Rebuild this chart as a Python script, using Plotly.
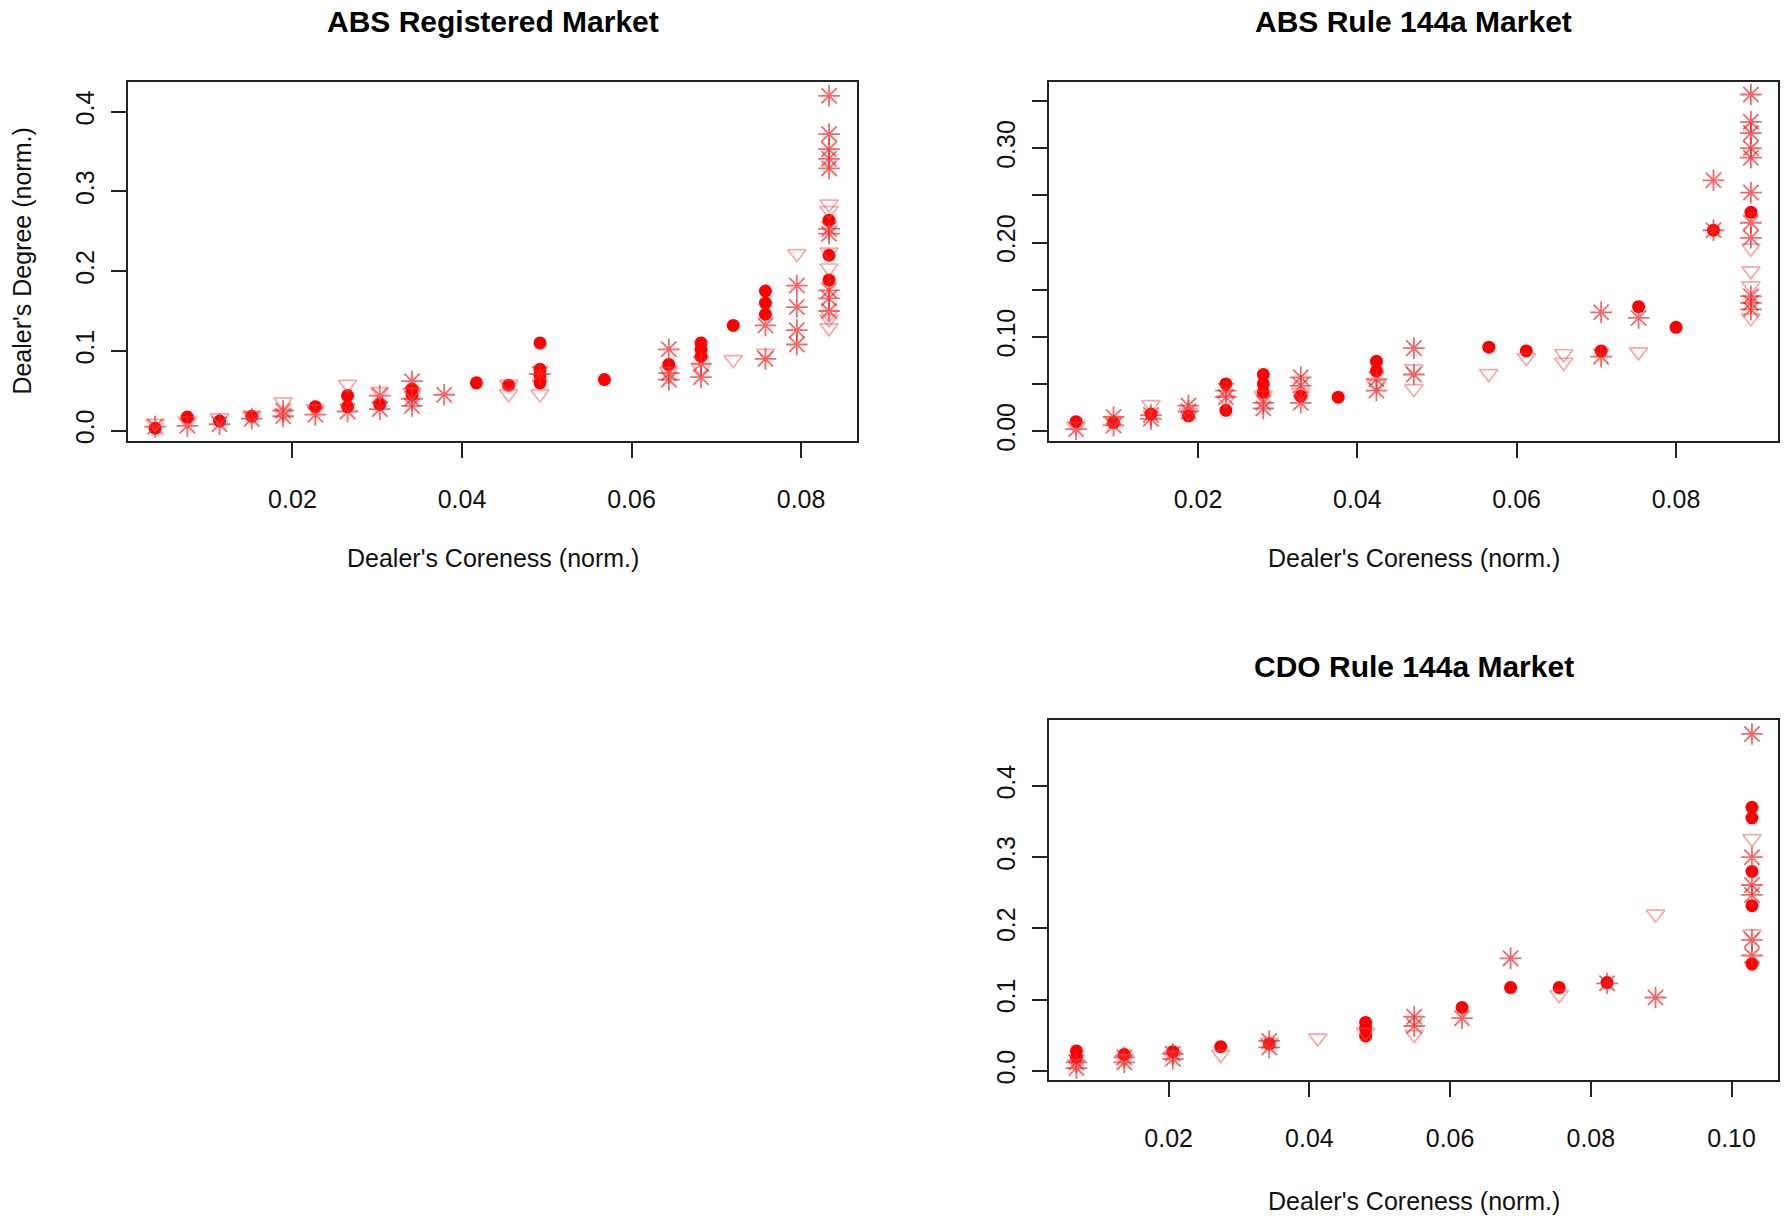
import plotly.graph_objects as go

# ---------------- data: ABS Registered Market ----------------
reg_circle_x = [0.0038, 0.0076, 0.0114, 0.0152, 0.0227, 0.0265, 0.0265, 0.0303, 0.0341, 0.0341,
                0.0417, 0.0455, 0.0492, 0.0492, 0.0492, 0.0492, 0.0568, 0.0644, 0.0682, 0.0682,
                0.0682, 0.0720, 0.0758, 0.0758, 0.0758, 0.0833, 0.0833, 0.0833]
reg_circle_y = [0.003, 0.017, 0.012, 0.018, 0.030, 0.044, 0.030, 0.033, 0.052, 0.045,
                0.060, 0.057, 0.110, 0.077, 0.069, 0.060, 0.064, 0.083, 0.110, 0.102,
                0.093, 0.132, 0.175, 0.160, 0.146, 0.264, 0.220, 0.189]
reg_star_x = [0.0038, 0.0076, 0.0114, 0.0152, 0.0189, 0.0189, 0.0227, 0.0265, 0.0303, 0.0303,
              0.0341, 0.0341, 0.0341, 0.0379, 0.0492, 0.0644, 0.0644, 0.0644, 0.0682, 0.0682,
              0.0758, 0.0758, 0.0795, 0.0795, 0.0795, 0.0795, 0.0833, 0.0833, 0.0833, 0.0833,
              0.0833, 0.0833, 0.0833, 0.0833, 0.0833, 0.0833]
reg_star_y = [0.005, 0.006, 0.008, 0.015, 0.025, 0.018, 0.020, 0.024, 0.044, 0.027,
              0.062, 0.040, 0.031, 0.045, 0.071, 0.102, 0.072, 0.064, 0.084, 0.067,
              0.132, 0.090, 0.182, 0.155, 0.126, 0.108, 0.420, 0.372, 0.353, 0.341,
              0.329, 0.253, 0.247, 0.176, 0.166, 0.150]
reg_tri_x = [0.0038, 0.0076, 0.0114, 0.0152, 0.0189, 0.0189, 0.0227, 0.0265, 0.0303, 0.0341,
             0.0455, 0.0455, 0.0492, 0.0644, 0.0682, 0.0720, 0.0758, 0.0795, 0.0833, 0.0833,
             0.0833, 0.0833, 0.0833, 0.0833, 0.0833]
reg_tri_y = [0.009, 0.012, 0.016, 0.019, 0.036, 0.022, 0.027, 0.058, 0.049, 0.048,
             0.058, 0.046, 0.046, 0.074, 0.078, 0.089, 0.097, 0.222, 0.284, 0.276,
             0.224, 0.204, 0.146, 0.140, 0.129]

# ---------------- data: ABS Rule 144a Market ----------------
r144_circle_x = [0.0047, 0.0094, 0.0141, 0.0188, 0.0235, 0.0235, 0.0282, 0.0282, 0.0282, 0.0329,
                 0.0376, 0.0424, 0.0424, 0.0565, 0.0612, 0.0706, 0.0753, 0.0800, 0.0847, 0.0894]
r144_circle_y = [0.010, 0.009, 0.018, 0.016, 0.050, 0.022, 0.060, 0.050, 0.041, 0.037,
                 0.036, 0.074, 0.064, 0.089, 0.085, 0.085, 0.132, 0.110, 0.213, 0.232]
r144_star_x = [0.0047, 0.0094, 0.0094, 0.0141, 0.0141, 0.0188, 0.0188, 0.0235, 0.0235, 0.0282,
               0.0282, 0.0329, 0.0329, 0.0329, 0.0424, 0.0424, 0.0471, 0.0471, 0.0706, 0.0706,
               0.0753, 0.0847, 0.0847, 0.0894, 0.0894, 0.0894, 0.0894, 0.0894, 0.0894, 0.0894,
               0.0894, 0.0894, 0.0894, 0.0894]
r144_star_y = [0.002, 0.015, 0.006, 0.013, 0.017, 0.027, 0.021, 0.043, 0.036, 0.024,
               0.030, 0.057, 0.048, 0.030, 0.055, 0.043, 0.088, 0.060, 0.126, 0.079,
               0.120, 0.266, 0.213, 0.357, 0.328, 0.316, 0.300, 0.290, 0.253, 0.221,
               0.205, 0.143, 0.136, 0.129]
r144_tri_x = [0.0047, 0.0094, 0.0141, 0.0188, 0.0235, 0.0282, 0.0329, 0.0424, 0.0471, 0.0471,
              0.0565, 0.0612, 0.0659, 0.0659, 0.0753, 0.0894, 0.0894, 0.0894, 0.0894]
r144_tri_y = [0.005, 0.011, 0.028, 0.020, 0.033, 0.038, 0.041, 0.049, 0.066, 0.045,
              0.061, 0.078, 0.082, 0.073, 0.084, 0.194, 0.170, 0.154, 0.120]

# ---------------- data: CDO Rule 144a Market ----------------
cdo_circle_x = [0.0069, 0.0069, 0.0137, 0.0206, 0.0274, 0.0343, 0.0480, 0.0480, 0.0480, 0.0617,
                0.0686, 0.0755, 0.0823, 0.1029, 0.1029, 0.1029, 0.1029, 0.1029]
cdo_circle_y = [0.028, 0.019, 0.023, 0.027, 0.034, 0.038, 0.068, 0.060, 0.049, 0.089,
                0.117, 0.117, 0.124, 0.370, 0.355, 0.280, 0.232, 0.150]
cdo_star_x = [0.0069, 0.0069, 0.0137, 0.0137, 0.0206, 0.0206, 0.0343, 0.0343, 0.0549, 0.0549,
              0.0617, 0.0686, 0.0823, 0.0892, 0.1029, 0.1029, 0.1029, 0.1029, 0.1029, 0.1029]
cdo_star_y = [0.012, 0.004, 0.019, 0.012, 0.017, 0.024, 0.042, 0.033, 0.076, 0.063,
              0.074, 0.158, 0.123, 0.103, 0.473, 0.300, 0.261, 0.247, 0.184, 0.162]
cdo_tri_x = [0.0069, 0.0137, 0.0206, 0.0274, 0.0343, 0.0412, 0.0480, 0.0549, 0.0755, 0.0892,
             0.1029, 0.1029]
cdo_tri_y = [0.010, 0.017, 0.021, 0.023, 0.040, 0.046, 0.054, 0.051, 0.107, 0.220,
             0.326, 0.192]

# ---------------- tick labels ----------------
x_ticks_abs = [0.02, 0.04, 0.06, 0.08]
x_ticks_cdo = [0.02, 0.04, 0.06, 0.08, 0.10]
y_ticks_reg = [0.0, 0.1, 0.2, 0.3, 0.4]
y_ticks_r144 = [0.00, 0.05, 0.10, 0.15, 0.20, 0.25, 0.30, 0.35]
y_text_r144 = ["0.00", "", "0.10", "", "0.20", "", "0.30", ""]
y_ticks_cdo = [0.0, 0.1, 0.2, 0.3, 0.4]

titles = ["ABS Registered Market", "ABS Rule 144a Market", "CDO Rule 144a Market"]
x_title = "Dealer's Coreness (norm.)"
y_title = "Dealer's Degree (norm.)"

W, H = 1786, 1218
FONT = "Liberation Sans, Arial, sans-serif"

CIRCLE_COLOR = "#FF0000"
STAR_COLOR = "rgba(238, 40, 40, 0.70)"
TRI_COLOR = "rgba(240, 80, 80, 0.50)"

fig = go.Figure()

panels = [
    ("x", "y", reg_circle_x, reg_circle_y, reg_star_x, reg_star_y, reg_tri_x, reg_tri_y),
    ("x2", "y2", r144_circle_x, r144_circle_y, r144_star_x, r144_star_y, r144_tri_x, r144_tri_y),
    ("x3", "y3", cdo_circle_x, cdo_circle_y, cdo_star_x, cdo_star_y, cdo_tri_x, cdo_tri_y),
]
for xa, ya, cx, cy, sx, sy, tx, ty in panels:
    fig.add_trace(go.Scatter(x=cx, y=cy, mode="markers", xaxis=xa, yaxis=ya, showlegend=False,
                             marker=dict(symbol="circle", size=13, color=CIRCLE_COLOR,
                                         line=dict(width=0))))
    fig.add_trace(go.Scatter(x=sx, y=sy, mode="markers", xaxis=xa, yaxis=ya, showlegend=False,
                             marker=dict(symbol="asterisk-open", size=18, color=STAR_COLOR,
                                         line=dict(width=1.8, color=STAR_COLOR))))
    fig.add_trace(go.Scatter(x=tx, y=ty, mode="markers", xaxis=xa, yaxis=ya, showlegend=False,
                             marker=dict(symbol="triangle-down-open", size=16, color=TRI_COLOR,
                                         line=dict(width=1.7, color=TRI_COLOR))))

def px_x(p):
    return p / W

def px_y(p):
    return 1 - p / H

axis_common = dict(showline=True, mirror=True, linecolor="#222222", linewidth=2,
                   ticks="outside", ticklen=15, tickwidth=2, tickcolor="#222222",
                   showgrid=False, zeroline=False,
                   tickfont=dict(family=FONT, size=25, color="#111111"))

# panel pixel boxes (left, right, top, bottom)
box1 = (128, 857, 83, 445)
box2 = (1049, 1778, 83, 445)
box3 = (1049, 1778, 727, 1090)

fig.update_layout(
    width=W, height=H, margin=dict(l=0, r=0, t=0, b=0),
    paper_bgcolor="white", plot_bgcolor="white",
    xaxis=dict(domain=[px_x(box1[0]), px_x(box1[1])], range=[0.0006, 0.0866],
               tickvals=x_ticks_abs, ticktext=["%.2f" % v for v in x_ticks_abs],
               ticklabelstandoff=20, anchor="y", **axis_common),
    yaxis=dict(domain=[px_y(box1[3]), px_y(box1[2])], range=[-0.013, 0.437],
               tickvals=y_ticks_reg, ticktext=["%.1f" % v for v in y_ticks_reg],
               tickangle=-90, ticklabelstandoff=7, anchor="x", **axis_common),
    xaxis2=dict(domain=[px_x(box2[0]), px_x(box2[1])], range=[0.0013, 0.0928],
                tickvals=x_ticks_abs, ticktext=["%.2f" % v for v in x_ticks_abs],
                ticklabelstandoff=20, anchor="y2", **axis_common),
    yaxis2=dict(domain=[px_y(box2[3]), px_y(box2[2])], range=[-0.0105, 0.370],
                tickvals=y_ticks_r144, ticktext=y_text_r144,
                tickangle=-90, ticklabelstandoff=7, anchor="x2", **axis_common),
    xaxis3=dict(domain=[px_x(box3[0]), px_x(box3[1])], range=[0.0030, 0.1066],
                tickvals=x_ticks_cdo, ticktext=["%.2f" % v for v in x_ticks_cdo],
                ticklabelstandoff=20, anchor="y3", **axis_common),
    yaxis3=dict(domain=[px_y(box3[3]), px_y(box3[2])], range=[-0.013, 0.492],
                tickvals=y_ticks_cdo, ticktext=["%.1f" % v for v in y_ticks_cdo],
                tickangle=-90, ticklabelstandoff=7, anchor="x3", **axis_common),
)

ann = []
title_pos = [((box1[0] + box1[1]) / 2, 22), ((box2[0] + box2[1]) / 2, 22),
             ((box3[0] + box3[1]) / 2, 673)]
for t, (cx, cy) in zip(titles, title_pos):
    ann.append(dict(text="<b>%s</b>" % t, x=px_x(cx), y=px_y(cy), xref="paper", yref="paper",
                    xanchor="center", yanchor="middle", showarrow=False,
                    font=dict(family=FONT, size=30, color="#000000")))
xt_pos = [((box1[0] + box1[1]) / 2, 563), ((box2[0] + box2[1]) / 2, 563),
          ((box3[0] + box3[1]) / 2, 1212)]
for cx, cy in xt_pos:
    ann.append(dict(text=x_title, x=px_x(cx), y=px_y(cy), xref="paper", yref="paper",
                    xanchor="center", yanchor="middle", showarrow=False,
                    font=dict(family=FONT, size=25, color="#111111")))
ann.append(dict(text=y_title, x=px_x(22), y=px_y(264), xref="paper", yref="paper",
                xanchor="center", yanchor="middle", showarrow=False, textangle=-90,
                font=dict(family=FONT, size=25, color="#111111")))
fig.update_layout(annotations=ann)

fig.write_html("out.html")
